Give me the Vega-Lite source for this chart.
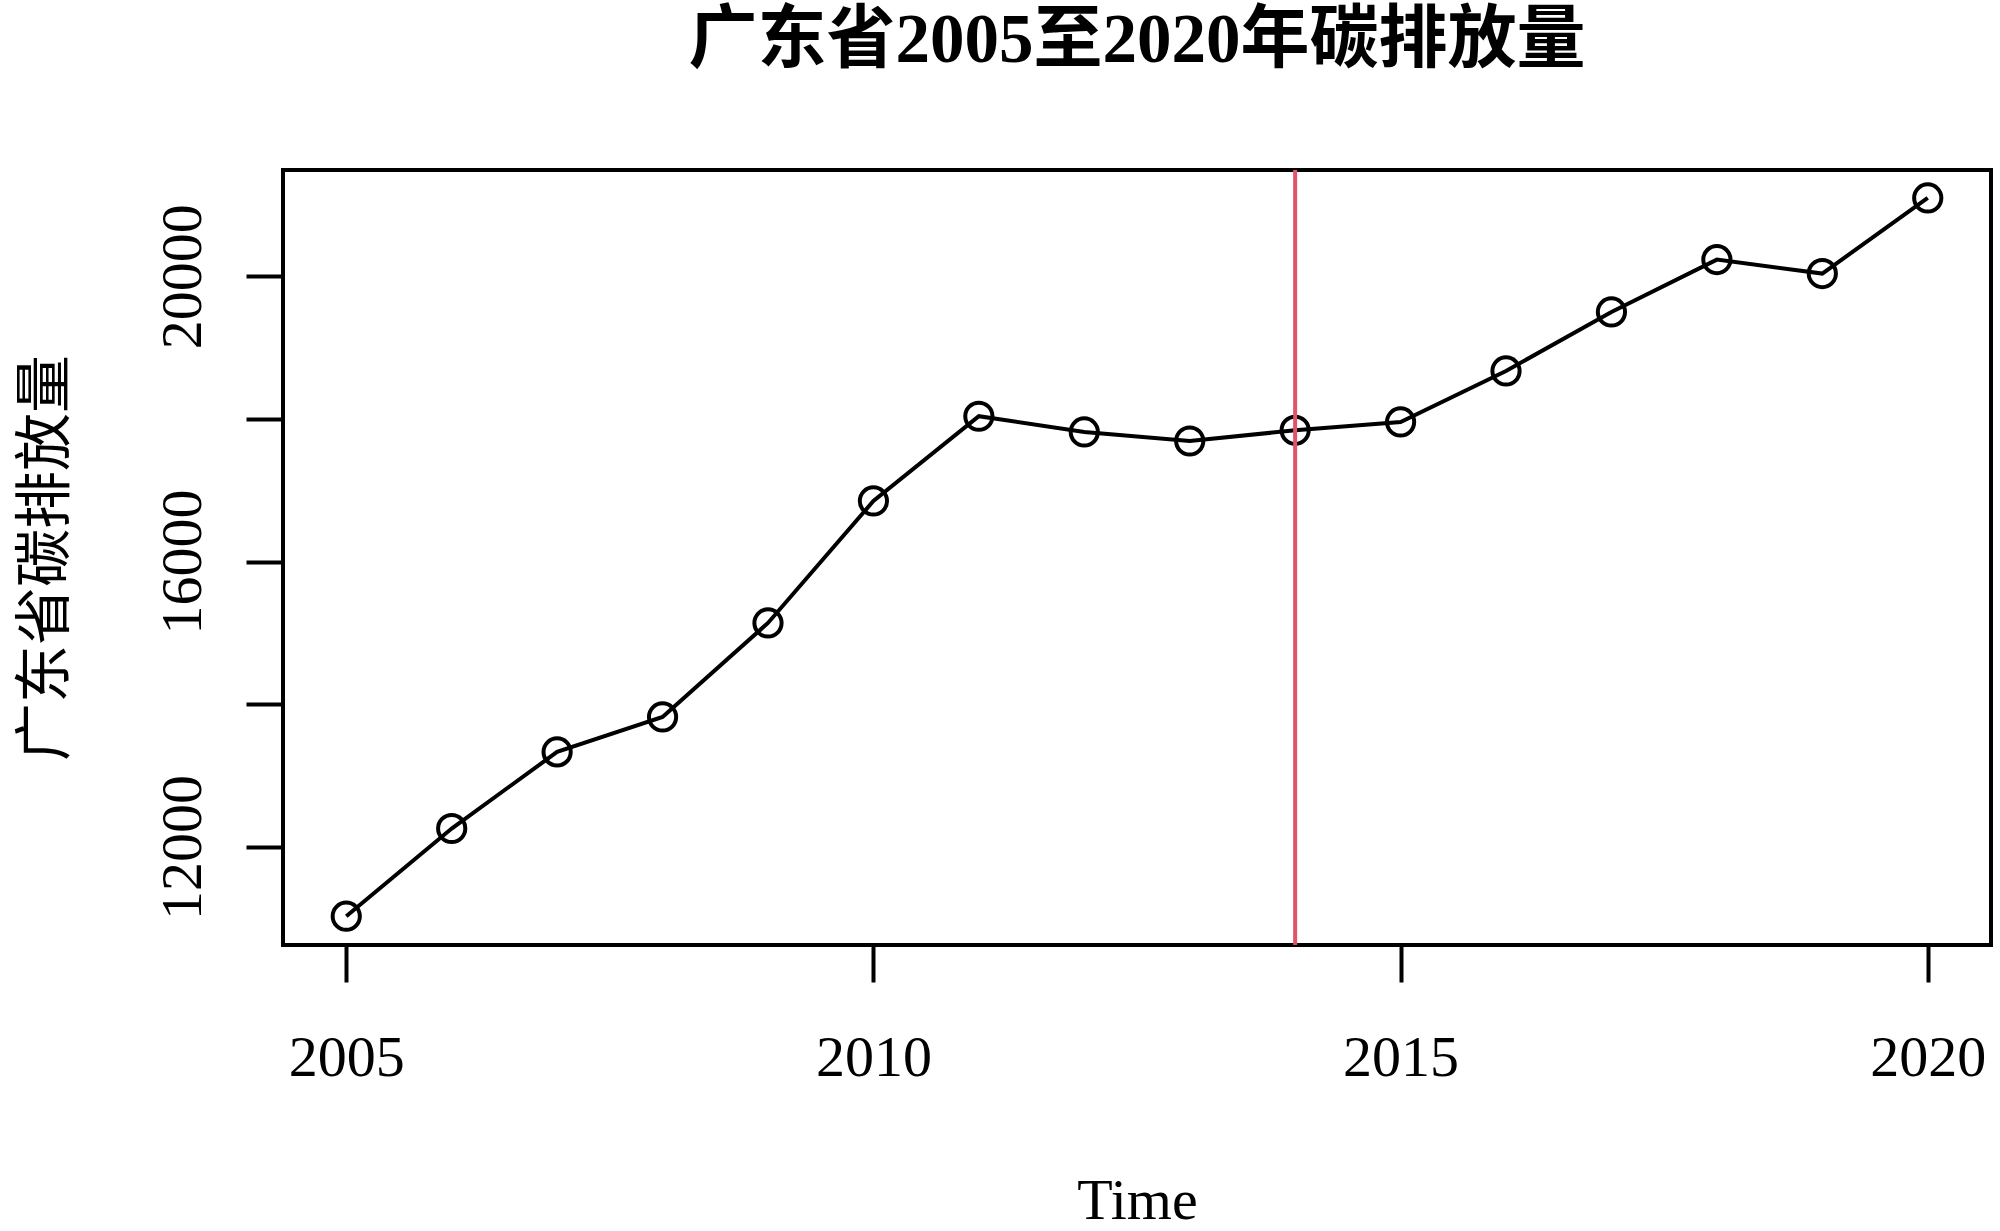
{
  "$schema": "https://vega.github.io/schema/vega-lite/v6.json",
  "autosize": {"type": "none"},
  "width": 1708,
  "height": 775,
  "padding": {"left": 283, "top": 170, "right": 9, "bottom": 286},
  "background": "white",
  "config": {
    "view": {"stroke": "black", "strokeWidth": 4},
    "axis": {
      "domain": false,
      "grid": false,
      "ticks": true,
      "tickColor": "black",
      "tickWidth": 4,
      "tickSize": 37,
      "labelColor": "black",
      "labelFont": "Liberation Serif",
      "labelFontSize": 58,
      "labelOverlap": false,
      "labelFlush": false,
      "labelBound": false,
      "titleColor": "black",
      "titleFont": "Liberation Serif, Noto Sans CJK SC",
      "titleFontSize": 58,
      "titleFontWeight": "normal"
    }
  },
  "title": {
    "text": "广东省2005至2020年碳排放量",
    "font": "Liberation Serif, Noto Sans CJK SC",
    "fontSize": 69,
    "fontWeight": "bold",
    "color": "black",
    "anchor": "middle",
    "frame": "group",
    "baseline": "alphabetic",
    "offset": 37
  },
  "datasets": {
    "emissions": [
      {"year": 2005, "value": 11029},
      {"year": 2006, "value": 12258},
      {"year": 2007, "value": 13332},
      {"year": 2008, "value": 13822},
      {"year": 2009, "value": 15140},
      {"year": 2010, "value": 16850},
      {"year": 2011, "value": 18038},
      {"year": 2012, "value": 17818},
      {"year": 2013, "value": 17691},
      {"year": 2014, "value": 17841},
      {"year": 2015, "value": 17958},
      {"year": 2016, "value": 18673},
      {"year": 2017, "value": 19500},
      {"year": 2018, "value": 20234},
      {"year": 2019, "value": 20038},
      {"year": 2020, "value": 21098}
    ],
    "marker": [{"year": 2014}]
  },
  "layer": [
    {
      "data": {"name": "emissions"},
      "mark": {"type": "line", "color": "black", "strokeWidth": 4},
      "encoding": {
        "x": {
          "field": "year",
          "type": "quantitative",
          "scale": {"domain": [2004.4, 2020.6], "nice": false, "zero": false},
          "axis": {
            "values": [2005, 2010, 2015, 2020],
            "format": "d",
            "title": "Time",
            "labelAngle": 0,
            "labelAlign": "center",
            "labelBaseline": "alphabetic",
            "labelPadding": 93,
            "titleBaseline": "alphabetic",
            "titleY": 273
          }
        },
        "y": {
          "field": "value",
          "type": "quantitative",
          "scale": {"domain": [10625, 21490], "nice": false, "zero": false},
          "axis": {
            "values": [12000, 14000, 16000, 18000, 20000],
            "format": "d",
            "labelExpr": "datum.value % 4000 === 0 ? datum.label : ''",
            "title": "广东省碳排放量",
            "labelAngle": -90,
            "labelAlign": "center",
            "labelBaseline": "alphabetic",
            "labelPadding": 46,
            "titleAngle": -90,
            "titleBaseline": "alphabetic",
            "titleX": -220
          }
        }
      }
    },
    {
      "data": {"name": "emissions"},
      "mark": {"type": "point", "shape": "circle", "filled": false, "color": "black", "strokeWidth": 4, "size": 740, "opacity": 1},
      "encoding": {
        "x": {"field": "year", "type": "quantitative"},
        "y": {"field": "value", "type": "quantitative"}
      }
    },
    {
      "data": {"name": "marker"},
      "mark": {"type": "rule", "color": "#DF536B", "strokeWidth": 4},
      "encoding": {
        "x": {"field": "year", "type": "quantitative"}
      }
    }
  ]
}
